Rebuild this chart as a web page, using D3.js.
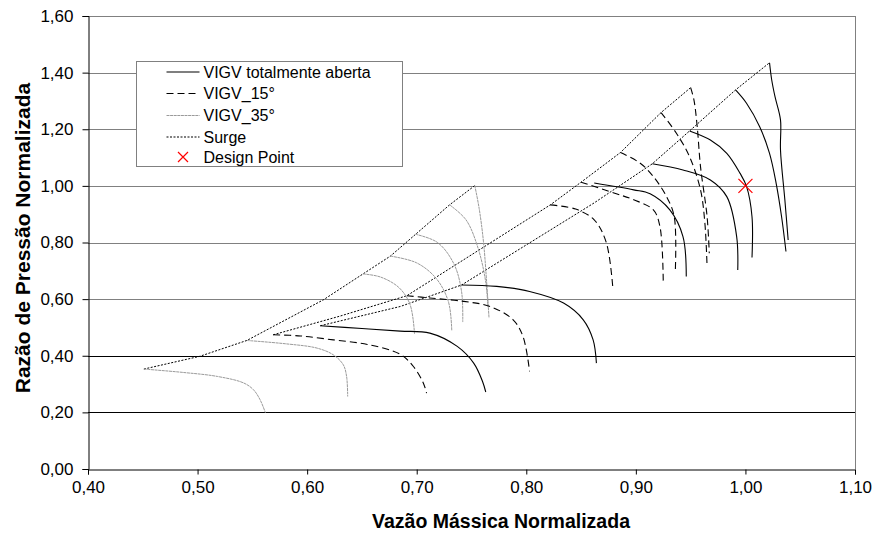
<!DOCTYPE html>
<html>
<head>
<meta charset="utf-8">
<script src="https://cdn.jsdelivr.net/npm/d3@7"></script>
<style>
  body { margin: 0; background: #fff; }
  svg { display: block; font-family: "Liberation Sans", Arial, sans-serif; }
</style>
</head>
<body>
<div id="chart"></div>
<script>
// valores (vazao normalizada, razao de pressao normalizada)
const xTicks = [0.4, 0.5, 0.6, 0.7, 0.8, 0.9, 1.0, 1.1];
const yTicks = [0, 0.2, 0.4, 0.6, 0.8, 1.0, 1.2, 1.4, 1.6];

const vigvAberta = [
  [[0.612,0.506],[0.650,0.496],[0.685,0.487],[0.712,0.480],[0.737,0.433],[0.752,0.374],[0.760,0.31],[0.763,0.272]],
  [[0.741,0.650],[0.773,0.645],[0.803,0.627],[0.834,0.586],[0.852,0.527],[0.861,0.456],[0.864,0.374]],
  [[0.862,1.010],[0.898,0.986],[0.913,0.972],[0.931,0.915],[0.943,0.821],[0.946,0.680]],
  [[0.915,1.078],[0.943,1.056],[0.968,1.021],[0.983,0.962],[0.992,0.821],[0.993,0.703]],
  [[0.949,1.194],[0.968,1.162],[0.983,1.115],[0.995,1.045],[1.001,0.998],[1.006,0.891],[1.006,0.747]],
  [[0.991,1.339],[1.001,1.292],[1.013,1.209],[1.022,1.115],[1.028,1.010],[1.033,0.891],[1.037,0.768]],
  [[1.022,1.435],[1.024,1.374],[1.027,1.315],[1.032,1.233],[1.032,1.127],[1.036,0.950],[1.039,0.809]]
];

const vigv15 = [
  [[0.569,0.474],[0.594,0.470],[0.624,0.456],[0.655,0.440],[0.685,0.405],[0.697,0.362],[0.706,0.304],[0.709,0.268]],
  [[0.691,0.612],[0.712,0.604],[0.743,0.592],[0.767,0.574],[0.788,0.527],[0.797,0.468],[0.803,0.345]],
  [[0.822,0.933],[0.845,0.918],[0.862,0.880],[0.873,0.800],[0.879,0.639]],
  [[0.850,1.013],[0.880,0.975],[0.898,0.951],[0.916,0.915],[0.922,0.856],[0.925,0.662]],
  [[0.886,1.118],[0.904,1.080],[0.916,1.033],[0.928,0.962],[0.935,0.892],[0.936,0.697]],
  [[0.923,1.259],[0.937,1.186],[0.949,1.103],[0.959,0.986],[0.963,0.868],[0.965,0.715]],
  [[0.950,1.347],[0.953,1.304],[0.956,1.209],[0.959,1.068],[0.965,0.892],[0.967,0.762]]
];

const vigv35 = [
  [[0.451,0.353],[0.487,0.341],[0.518,0.327],[0.542,0.304],[0.551,0.280],[0.557,0.245],[0.562,0.198]],
  [[0.545,0.454],[0.581,0.442],[0.609,0.427],[0.624,0.403],[0.633,0.368],[0.636,0.327],[0.637,0.256]],
  [[0.651,0.689],[0.667,0.678],[0.684,0.640],[0.694,0.580],[0.698,0.477]],
  [[0.676,0.752],[0.700,0.728],[0.718,0.672],[0.729,0.590],[0.732,0.488]],
  [[0.699,0.829],[0.719,0.800],[0.734,0.724],[0.741,0.625],[0.742,0.519]],
  [[0.730,0.933],[0.745,0.880],[0.756,0.780],[0.763,0.660],[0.765,0.574]],
  [[0.753,1.001],[0.757,0.920],[0.761,0.800],[0.764,0.650],[0.766,0.533]]
];

const surge = [
  [[0.451,0.353],[0.502,0.398],[0.545,0.454],[0.615,0.598],[0.651,0.689],[0.676,0.752],[0.699,0.829],[0.730,0.933],[0.753,1.001]],
  [[0.569,0.474],[0.630,0.540],[0.691,0.612],[0.822,0.933],[0.850,1.013],[0.886,1.118],[0.923,1.259],[0.950,1.347]],
  [[0.612,0.506],[0.685,0.574],[0.741,0.650],[0.862,0.940],[0.915,1.078],[0.949,1.194],[0.991,1.339],[1.022,1.435]]
];

const designPoint = [[1.0, 1.0]];

const legendLabels = ["VIGV totalmente aberta", "VIGV_15°", "VIGV_35°", "Surge", "Design Point"];

const W = 876, H = 533;
const margin = { top: 16, right: 21, bottom: 64, left: 88 };

const svg = d3.select('#chart').append('svg')
  .attr('width', W)
  .attr('height', H);

const x = d3.scaleLinear().domain([0.4, 1.1]).range([margin.left, W - margin.right]);
const y = d3.scaleLinear().domain([0, 1.6]).range([H - margin.bottom, margin.top]);

const br = d3.formatLocale({ decimal: ",", thousands: ".", grouping: [3], currency: ["R$", ""] });
const fmt = br.format(".2f");

// linhas de grade
svg.append('g')
  .selectAll('line')
  .data(yTicks.filter(d => d > 0))
  .join('line')
  .attr('x1', x(0.4)).attr('x2', x(1.1))
  .attr('y1', d => Math.round(y(d)) + 0.5).attr('y2', d => Math.round(y(d)) + 0.5)
  .attr('stroke', d => d <= 0.4 ? '#000' : '#808080')
  .attr('stroke-width', 1);

// borda direita
svg.append('line')
  .attr('x1', Math.round(x(1.1)) + 0.5).attr('x2', Math.round(x(1.1)) + 0.5)
  .attr('y1', y(1.6)).attr('y2', y(0))
  .attr('stroke', '#808080');

const xAxis = svg.append('g')
  .attr('transform', 'translate(0,' + (Math.round(y(0)) + 0.5) + ')')
  .call(d3.axisBottom(x).tickValues(xTicks).tickFormat(fmt).tickSize(5).tickPadding(6));

const yAxis = svg.append('g')
  .attr('transform', 'translate(' + (Math.round(x(0.4)) + 0.5) + ',0)')
  .call(d3.axisLeft(y).tickValues(yTicks).tickFormat(fmt).tickSize(6).tickPadding(9));

[xAxis, yAxis].forEach(a => {
  a.select('.domain').attr('stroke', '#000');
  a.selectAll('.tick line').attr('stroke', '#000');
  a.selectAll('.tick text')
    .attr('fill', '#000')
    .style('font-size', '17px')
    .style('font-family', '"Liberation Sans", Arial, sans-serif');
});

// curvas
const line = d3.line()
  .x(d => x(d[0]))
  .y(d => y(d[1]))
  .curve(d3.curveCatmullRom.alpha(0.5));

const straight = d3.line()
  .x(d => x(d[0]))
  .y(d => y(d[1]));

const plot = svg.append('g').attr('fill', 'none');

plot.selectAll('.surge')
  .data(surge)
  .join('path')
  .attr('class', 'surge')
  .attr('d', straight)
  .attr('stroke', '#000')
  .attr('stroke-width', 1)
  .attr('stroke-dasharray', '2,1.5');

plot.selectAll('.v35')
  .data(vigv35)
  .join('path')
  .attr('class', 'v35')
  .attr('d', line)
  .attr('stroke', '#9a9a9a')
  .attr('stroke-width', 1)
  .attr('stroke-dasharray', '3,0.6');

plot.selectAll('.v15')
  .data(vigv15)
  .join('path')
  .attr('class', 'v15')
  .attr('d', line)
  .attr('stroke', '#000')
  .attr('stroke-width', 1.1)
  .attr('stroke-dasharray', '7,4');

plot.selectAll('.aberta')
  .data(vigvAberta)
  .join('path')
  .attr('class', 'aberta')
  .attr('d', line)
  .attr('stroke', '#000')
  .attr('stroke-width', 1.1);

function cross(g, cx, cy, r) {
  g.append('path')
    .attr('d', `M${cx - r},${cy - r}L${cx + r},${cy + r}M${cx - r},${cy + r}L${cx + r},${cy - r}`)
    .attr('stroke', '#ff0000')
    .attr('stroke-width', 1.2)
    .attr('fill', 'none');
}

designPoint.forEach(d => cross(svg, x(d[0]), y(d[1]), 7));

// titulos dos eixos
svg.append('text')
  .attr('x', 501)
  .attr('y', 528)
  .attr('text-anchor', 'middle')
  .style('font-weight', 'bold')
  .style('font-size', '19.5px')
  .text('Vazão Mássica Normalizada');

svg.append('text')
  .attr('transform', 'translate(30,' + 238 + ') rotate(-90)')
  .attr('text-anchor', 'middle')
  .style('font-weight', 'bold')
  .style('font-size', '21px')
  .text('Razão de Pressão Normalizada');

// legenda
const legend = svg.append('g').attr('transform', 'translate(136.5,61.5)');
legend.append('rect')
  .attr('width', 266).attr('height', 105)
  .attr('fill', '#fff')
  .attr('stroke', '#808080');

const rowY = [10.5, 32, 54, 75.5, 95.5];
const styles = [
  { stroke: '#000', dash: null },
  { stroke: '#000', dash: '7,4' },
  { stroke: '#9a9a9a', dash: '3,0.6' },
  { stroke: '#000', dash: '2,1.5' }
];

styles.forEach((s, i) => {
  legend.append('line')
    .attr('x1', 30).attr('x2', 63)
    .attr('y1', rowY[i]).attr('y2', rowY[i])
    .attr('stroke', s.stroke)
    .attr('stroke-width', 1.1)
    .attr('stroke-dasharray', s.dash);
});
cross(legend, 46.5, rowY[4], 5);

legend.selectAll('text')
  .data(legendLabels)
  .join('text')
  .attr('x', 67)
  .attr('y', (d, i) => rowY[i])
  .attr('dy', '0.36em')
  .style('font-size', '16px')
  .text(d => d);
</script>
</body>
</html>
